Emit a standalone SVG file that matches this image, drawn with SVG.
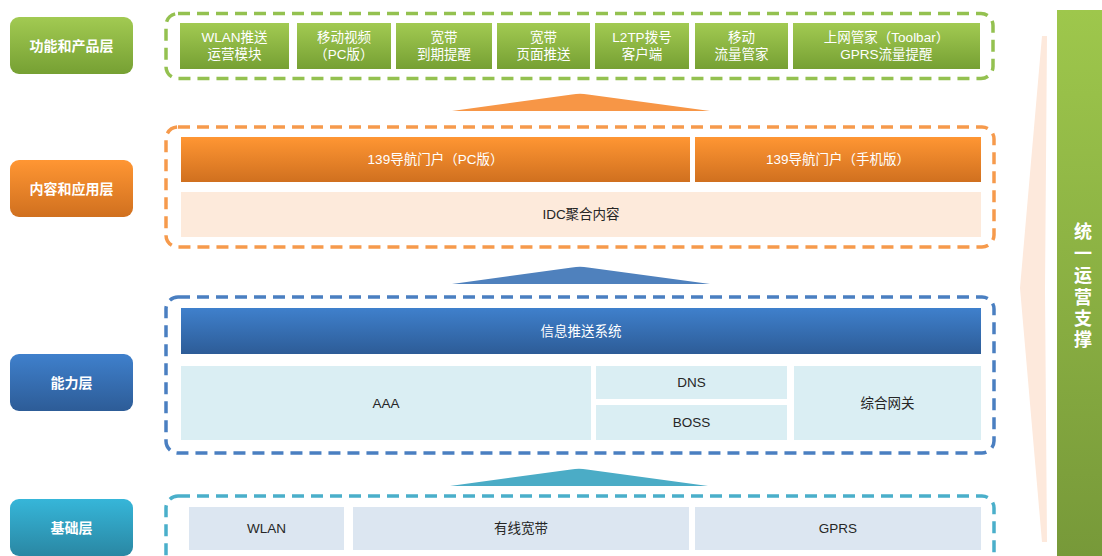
<svg xmlns="http://www.w3.org/2000/svg" width="1102" height="556" viewBox="0 0 1102 556">
<defs>
<linearGradient id="gG" x1="0" y1="0" x2="0" y2="1"><stop offset="0" stop-color="#a2ca52"/><stop offset="1" stop-color="#76a033"/></linearGradient>
<linearGradient id="gBar" x1="0" y1="0" x2="0" y2="1"><stop offset="0" stop-color="#9ec74c"/><stop offset="1" stop-color="#779939"/></linearGradient>
<linearGradient id="gO" x1="0" y1="0" x2="0" y2="1"><stop offset="0" stop-color="#ff9633"/><stop offset="1" stop-color="#d0701f"/></linearGradient>
<linearGradient id="gB" x1="0" y1="0" x2="0" y2="1"><stop offset="0" stop-color="#3f80cc"/><stop offset="1" stop-color="#2d5c97"/></linearGradient>
<linearGradient id="gC" x1="0" y1="0" x2="0" y2="1"><stop offset="0" stop-color="#36b6d9"/><stop offset="1" stop-color="#2a87a3"/></linearGradient>
<style>
text{font-family:'Liberation Sans','Noto Sans CJK SC',sans-serif;text-anchor:middle;dominant-baseline:central}
.lbl{font-size:14px;font-weight:bold;fill:#fff}
.wt{font-size:13.5px;fill:#fff}
.dk{font-size:13.5px;fill:#262626}
.dash{fill:none;stroke-width:3.5;stroke-dasharray:12 7}
</style>
</defs>
<rect width="1102" height="556" fill="#fff"/>

<g id="label-func"><rect x="10" y="17" width="123" height="57" rx="9" fill="url(#gG)"/><text class="lbl" x="71.5" y="45.5">功能和产品层</text></g>
<g id="label-content"><rect x="10" y="160" width="123" height="57" rx="9" fill="url(#gO)"/><text class="lbl" x="71.5" y="188.5">内容和应用层</text></g>
<g id="label-ability"><rect x="10" y="354" width="123" height="57" rx="9" fill="url(#gB)"/><text class="lbl" x="71.5" y="382.5">能力层</text></g>
<g id="label-base"><rect x="10" y="499" width="123" height="57" rx="9" fill="url(#gC)"/><text class="lbl" x="71.5" y="527.5">基础层</text></g>

<g id="layer-func">
<rect class="dash" x="166" y="13.5" width="827" height="65" rx="12" stroke="#94c150"/>
<g id="n-wlan-push"><rect x="180" y="23" width="109" height="46" fill="url(#gG)"/><text class="wt" x="234.5" y="37">WLAN推送</text><text class="wt" x="234.5" y="54">运营模块</text></g>
<g id="n-video"><rect x="297" y="23" width="94" height="46" fill="url(#gG)"/><text class="wt" x="344" y="37">移动视频</text><text class="wt" x="344" y="54">（PC版）</text></g>
<g id="n-bb-expire"><rect x="396" y="23" width="96" height="46" fill="url(#gG)"/><text class="wt" x="444" y="37">宽带</text><text class="wt" x="444" y="54">到期提醒</text></g>
<g id="n-bb-push"><rect x="497" y="23" width="93" height="46" fill="url(#gG)"/><text class="wt" x="543.5" y="37">宽带</text><text class="wt" x="543.5" y="54">页面推送</text></g>
<g id="n-l2tp"><rect x="595" y="23" width="94" height="46" fill="url(#gG)"/><text class="wt" x="642" y="37">L2TP拨号</text><text class="wt" x="642" y="54">客户端</text></g>
<g id="n-flow"><rect x="695" y="23" width="93" height="46" fill="url(#gG)"/><text class="wt" x="741.5" y="37">移动</text><text class="wt" x="741.5" y="54">流量管家</text></g>
<g id="n-toolbar"><rect x="793" y="23" width="187" height="46" fill="url(#gG)"/><text class="wt" x="886.5" y="37">上网管家（Toolbar）</text><text class="wt" x="886.5" y="54">GPRS流量提醒</text></g>
</g>

<g id="layer-content">
<rect class="dash" x="166" y="127" width="828" height="120" rx="12" stroke="#f69a4c"/>
<g id="n-139pc"><rect x="181" y="137" width="509" height="45" fill="url(#gO)"/><text class="wt" x="435.5" y="159.5">139导航门户（PC版）</text></g>
<g id="n-139m"><rect x="695" y="137" width="286" height="45" fill="url(#gO)"/><text class="wt" x="838" y="159.5">139导航门户（手机版）</text></g>
<g id="n-idc"><rect x="181" y="192" width="800" height="45" fill="#fdeadb"/><text class="dk" x="581" y="214.5">IDC聚合内容</text></g>
</g>

<g id="layer-ability">
<rect class="dash" x="166" y="297" width="828" height="156" rx="12" stroke="#4a7fc1"/>
<g id="n-push"><rect x="181" y="308" width="800" height="46" fill="url(#gB)"/><text class="wt" x="581" y="331">信息推送系统</text></g>
<g id="n-aaa"><rect x="181" y="366" width="410" height="74" fill="#daeef3"/><text class="dk" x="386" y="403">AAA</text></g>
<g id="n-dns"><rect x="596" y="366" width="191" height="33" fill="#daeef3"/><text class="dk" x="691.5" y="382.5">DNS</text></g>
<g id="n-boss"><rect x="596" y="405" width="191" height="35" fill="#daeef3"/><text class="dk" x="691.5" y="422.5">BOSS</text></g>
<g id="n-gw"><rect x="794" y="366" width="187" height="74" fill="#daeef3"/><text class="dk" x="887.5" y="403">综合网关</text></g>
</g>

<g id="layer-base">
<rect class="dash" x="166" y="496" width="828" height="80" rx="12" stroke="#4aafca"/>
<g id="n-wlan"><rect x="189" y="507" width="155" height="43" fill="#dce6f1"/><text class="dk" x="266.5" y="528.5">WLAN</text></g>
<g id="n-wired"><rect x="353" y="507" width="336" height="43" fill="#dce6f1"/><text class="dk" x="521" y="528.5">有线宽带</text></g>
<g id="n-gprs"><rect x="695" y="507" width="286" height="43" fill="#dce6f1"/><text class="dk" x="838" y="528.5">GPRS</text></g>
</g>

<g id="connectors">
<path d="M452,111 L572,94.5 Q580,93 588,94.5 L710,111 Z" fill="#f79646"/>
<path d="M452,284 L572,267.5 Q580,266 588,267.5 L710,284 Z" fill="#4f81bd"/>
<path d="M450,486 L571,469.5 Q579,468 587,469.5 L708,486 Z" fill="#4bacc6"/>
</g>

<g id="ops-support">
<polygon points="1042,36 1047,36 1045,290 1047,542 1042,542 1020,288" fill="#fde9dc"/>
<rect x="1057" y="10" width="45" height="546" fill="url(#gBar)"/>
<g style="font-size:18px;font-weight:bold;fill:#fff">
<text x="1083" y="232">统</text><text x="1083" y="254">一</text><text x="1083" y="276">运</text><text x="1083" y="298">营</text><text x="1083" y="319">支</text><text x="1083" y="340">撑</text>
</g>
</g>
</svg>
